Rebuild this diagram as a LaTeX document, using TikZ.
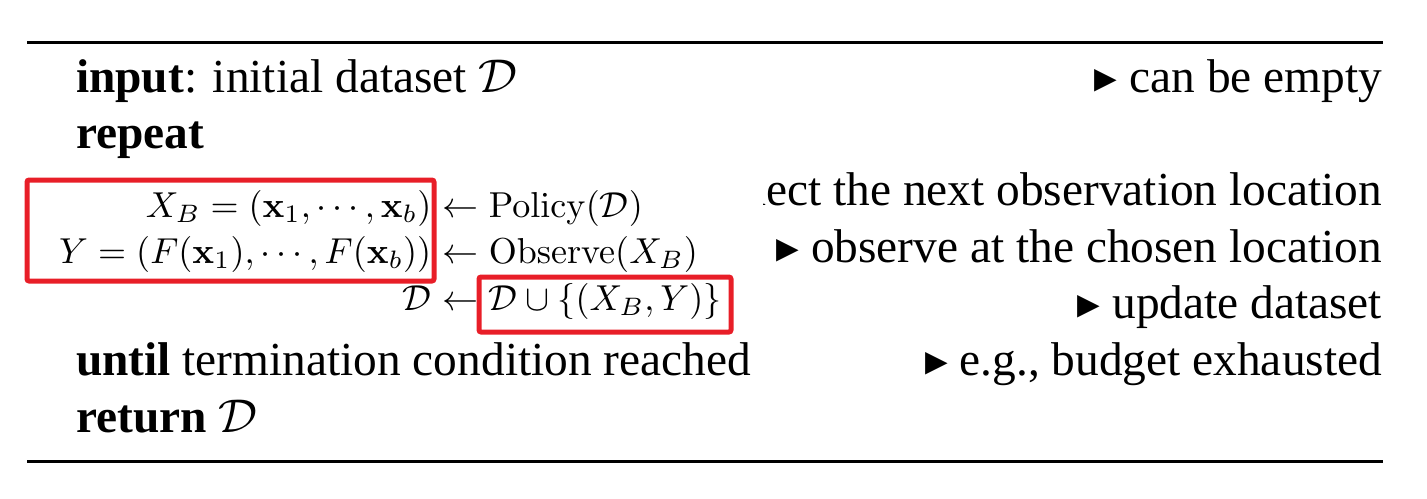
\documentclass[tikz,border=0pt]{standalone}
\usepackage{amssymb}
\usepackage[no-math]{fontspec}
\setmainfont{Liberation Serif}
\newfontfamily\symfont{DejaVu Sans}
\usepackage{tikz}
\usetikzlibrary{positioning}

\definecolor{boxred}{RGB}{232,30,40}
\newcommand{\tri}{{\symfont\fontsize{8.6}{9}\selectfont ▸}}

\tikzset{
	line/.style={anchor=base west, inner sep=0pt, font=\fontsize{9}{11}\selectfont},
	cmt/.style={anchor=base east, inner sep=0pt, font=\fontsize{9}{11}\selectfont},
	lhs/.style={anchor=base east, inner sep=0pt, scale=0.685, transform shape},
	rhs/.style={anchor=base west, inner sep=0pt, scale=0.685, transform shape},
	hl/.style={draw=boxred, line width=0.95pt, rounded corners=0.4pt}
}

\begin{document}
\begin{tikzpicture}[x=0.19pt, y=-0.19pt]
		\useasboundingbox (0,0) rectangle (1427,498);
		% rules
		\draw[line width=0.57pt] (27,42) -- (1383,42);
		\draw[line width=0.57pt] (27,461) -- (1383,461);
		
		% algorithm lines
		\node[line] (input) at (75,92) {\textbf{input}: initial dataset $\mathcal{D}$};
		\node[line] (repeat) at (75,148) {\textbf{repeat}};
		\node[line] (until) at (75,375) {\textbf{until} termination condition reached};
		\node[line] (return) at (75,432) {\textbf{return} $\mathcal{D}$};
		
		% comments
		\node[cmt] (c1) at (1383,92) {\tri\ can be empty};
		\begin{scope}
			\clip (763,150) rectangle (1400,230);
			\node[cmt] (c2) at (1383,205) {\tri\ select the next observation location};
		\end{scope}
		\node[cmt] (c3) at (1383,262) {\tri\ observe at the chosen location};
		\node[cmt] (c4) at (1383,318) {\tri\ update dataset};
		\node[cmt] (c5) at (1383,375) {\tri\ e.g., budget exhausted};
		
		% batch step
		\node[lhs] (xb) at (432,217) {$X_B = (\mathbf{x}_1, \cdots, \mathbf{x}_b)$};
		\node[rhs] (policy) at (xb.base east) {${}\leftarrow \mathrm{Policy}(\mathcal{D})$};
		\node[lhs] (y) at (432,263) {$Y = (F(\mathbf{x}_1), \cdots, F(\mathbf{x}_b))$};
		\node[rhs] (observe) at (y.base east) {${}\leftarrow \mathrm{Observe}(X_B)$};
		\node[lhs] (d) at (432,310) {$\mathcal{D}$};
		\node[rhs] (update) at (d.base east) {${}\leftarrow \mathcal{D} \cup \{(X_B, Y)\}$};
		
		% highlights
		\draw[hl] (27,180) rectangle (434,281);
		\draw[hl] (479,277) rectangle (731,332);
	\end{tikzpicture}
\end{document}
